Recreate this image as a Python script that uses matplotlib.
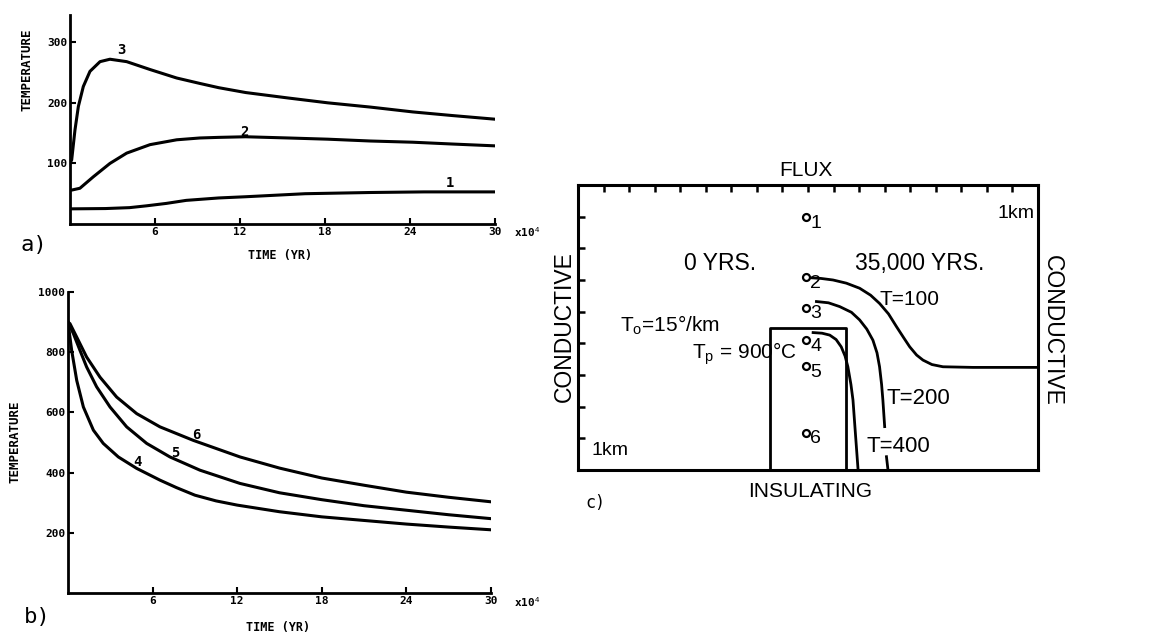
import matplotlib
matplotlib.use("Agg")
import matplotlib.pyplot as plt

plt.rcParams['mathtext.fontset'] = 'custom'
plt.rcParams['mathtext.rm'] = 'Liberation Sans'
plt.rcParams['mathtext.it'] = 'Liberation Sans'

# panel a: temperature vs time (x10^4 yr) at points 1-3
t3 = [0, 0.12, 0.35, 0.59, 0.94, 1.41, 2.12, 2.82, 4.0, 5.65, 7.53, 9.17, 10.5, 12.4,
      15.4, 18.2, 21.2, 24.2, 27, 30]
T3 = [100, 106, 155, 194, 227, 252, 268, 272, 268, 255, 241, 232, 225, 217,
      208, 200, 193, 185, 179, 173]
t2 = [0, 0.12, 0.7, 1.65, 2.82, 4.0, 5.65, 7.53, 9.17, 10.5, 12.4, 15.4, 18.2, 21.2,
      24.2, 27, 30]
T2 = [56, 56, 59, 78, 100, 117, 131, 139, 142, 143, 144, 142, 140, 137,
      135, 132, 129]
t1 = [0, 2.5, 4.2, 5.4, 6.8, 8.2, 10.5, 12.4, 16.6, 21.2, 25, 30]
T1 = [25, 25.5, 27, 30, 34, 39, 43, 45, 50, 52, 53, 53]

# panel b: points 4-6 inside the pluton
t4 = [0, 0.26, 0.62, 1.09, 1.8, 2.5, 3.57, 4.87, 6.52, 7.7, 9, 10.5, 12, 15, 18, 21,
      24, 27, 30]
T4 = [900, 806, 706, 618, 541, 497, 452, 414, 375, 350, 325, 306, 292, 270, 253, 241,
      229, 219, 210]
t5 = [0, 0.38, 0.85, 1.32, 2.03, 2.98, 4.16, 5.58, 7.23, 9.36, 12.2, 15, 18, 21, 24,
      27, 30]
T5 = [900, 862, 806, 751, 685, 618, 552, 497, 452, 408, 364, 333, 310, 290, 275,
      260, 247]
t6 = [0, 0.14, 0.62, 1.32, 2.27, 3.45, 4.87, 6.52, 8.89, 12.2, 15, 18, 21, 24, 27, 30]
T6 = [900, 895, 850, 784, 717, 651, 596, 552, 507, 452, 415, 382, 358, 335, 318, 303]

xticks = [6, 12, 18, 24, 30]
yticks_a = [100, 200, 300]
yticks_b = [200, 400, 600, 800, 1000]

# panel c: model section (grid units, 18 wide x 9 deep)
pluton_x = [7.5, 7.5, 10.5, 10.5]
pluton_y = [0, 4.5, 4.5, 0]
pts_x = [8.93, 8.93, 8.93, 8.93, 8.93, 8.93]
pts_y = [7.98, 6.08, 5.13, 4.11, 3.28, 1.18]
pts_lab = ['1', '2', '3', '4', '5', '6']
iso100_x = [8.93, 9.5, 9.98, 10.5, 11.02, 11.45, 11.8, 12.15, 12.46, 12.75, 12.98,
            13.25, 13.5, 13.85, 14.28, 15.46, 18]
iso100_y = [6.08, 6.05, 6.0, 5.9, 5.74, 5.52, 5.26, 4.93, 4.53, 4.17, 3.89,
            3.63, 3.47, 3.33, 3.26, 3.24, 3.24]
iso200_x = [9.33, 9.8, 10.24, 10.7, 11.02, 11.3, 11.54, 11.7, 11.8, 11.88, 11.93, 12.0]
iso200_y = [5.32, 5.28, 5.16, 4.98, 4.74, 4.45, 4.1, 3.7, 3.26, 2.7, 2.21, 1.37]
iso200b_x = [12.07, 12.13]
iso200b_y = [0.42, 0.0]
iso400_x = [9.2, 9.55, 9.85, 10.1, 10.3, 10.45, 10.56, 10.68, 10.76, 10.86, 10.96]
iso400_y = [4.34, 4.32, 4.26, 4.12, 3.89, 3.6, 3.26, 2.7, 2.21, 1.1, 0.0]

W, H = 1176, 632


def box(l, t, r, b):
    return [l / W, 1 - b / H, (r - l) / W, (b - t) / H]


fig = plt.figure(figsize=(11.76, 6.32), dpi=100)
mono = dict(family='DejaVu Sans Mono', weight='bold')


def style_axis(ax, yt, ylim):
    ax.set_xlim(0, 30)
    ax.set_ylim(*ylim)
    for s in ['top', 'right']:
        ax.spines[s].set_visible(False)
    for s in ['left', 'bottom']:
        ax.spines[s].set_linewidth(2)
    ax.set_xticks(xticks)
    ax.set_yticks(yt)
    ax.tick_params(direction='in', length=4, width=1.5, pad=2)
    for lab in ax.get_xticklabels() + ax.get_yticklabels():
        lab.set_fontfamily('DejaVu Sans Mono')
        lab.set_fontweight('bold')
        lab.set_fontsize(8)


# a)
axa = fig.add_axes(box(70, 15, 495, 224))
for t, T in [(t1, T1), (t2, T2), (t3, T3)]:
    axa.plot(t, T, color='black', lw=2.2, solid_joinstyle='round')
style_axis(axa, yticks_a, (0, 345))
axa.text(3.65, 287, '3', fontsize=10, ha='center', va='center', **mono)
axa.text(12.3, 152, '2', fontsize=10, ha='center', va='center', **mono)
axa.text(26.8, 68, '1', fontsize=10, ha='center', va='center', **mono)
fig.text(280 / W, 1 - 256 / H, 'TIME (YR)', fontsize=8.5, ha='center', va='center', **mono)
fig.text(27 / W, 1 - 70 / H, 'TEMPERATURE', fontsize=9, rotation=90, ha='center', va='center', **mono)
fig.text(527 / W, 1 - 232 / H, 'x10$^4$', fontsize=8, ha='center', va='center', **mono)
fig.text(34 / W, 1 - 245 / H, 'a)', fontsize=16, ha='center', va='center', family='DejaVu Sans Mono')

# b)
axb = fig.add_axes(box(68, 292, 491, 593))
for t, T in [(t4, T4), (t5, T5), (t6, T6)]:
    axb.plot(t, T, color='black', lw=2.2, solid_joinstyle='round')
style_axis(axb, yticks_b, (0, 1000))
axb.text(4.91, 434, '4', fontsize=10, ha='center', va='center', **mono)
axb.text(7.59, 465, '5', fontsize=10, ha='center', va='center', **mono)
axb.text(9.13, 524, '6', fontsize=10, ha='center', va='center', **mono)
fig.text(278 / W, 1 - 627 / H, 'TIME (YR)', fontsize=8.5, ha='center', va='center', **mono)
fig.text(15 / W, 1 - 442 / H, 'TEMPERATURE', fontsize=9, rotation=90, ha='center', va='center', **mono)
fig.text(527 / W, 1 - 602 / H, 'x10$^4$', fontsize=8, ha='center', va='center', **mono)
fig.text(37 / W, 1 - 617 / H, 'b)', fontsize=16, ha='center', va='center', family='DejaVu Sans Mono')

# c)
axc = fig.add_axes(box(578, 185, 1038, 470))
axc.set_xlim(0, 18)
axc.set_ylim(0, 9)
for s in axc.spines.values():
    s.set_linewidth(2.2)
axc.set_xticks(range(1, 18))
axc.set_yticks(range(1, 9))
axc.tick_params(axis='x', top=True, bottom=False, labelbottom=False, direction='in', length=5, width=1.8)
axc.tick_params(axis='y', left=True, right=False, labelleft=False, direction='in', length=5, width=1.8)
for xs, ys in [(pluton_x, pluton_y), (iso100_x, iso100_y), (iso200_x, iso200_y),
               (iso200b_x, iso200b_y), (iso400_x, iso400_y)]:
    axc.plot(xs, ys, color='black', lw=2, solid_joinstyle='round')
axc.plot(pts_x, pts_y, 'o', ms=5, mfc='white', mec='black', mew=1.6, ls='none')
for x, y, s in zip(pts_x, pts_y, pts_lab):
    axc.text(x + 0.38, y - 0.2, s, fontsize=14, ha='center', va='center', family='Liberation Sans')

sans = dict(family='Liberation Sans', ha='center', va='center', clip_on=False)
axc.text(8.93, 9.47, 'FLUX', fontsize=15, **sans)
axc.text(9.07, -0.68, 'INSULATING', fontsize=15, **sans)
axc.text(-0.52, 4.53, 'CONDUCTIVE', fontsize=16.5, rotation=90, **sans)
axc.text(18.55, 4.42, 'CONDUCTIVE', fontsize=16.5, rotation=-90, **sans)
axc.text(17.15, 8.1, '1km', fontsize=14, **sans)
axc.text(1.24, 0.63, '1km', fontsize=14, **sans)
axc.text(5.54, 6.53, '0 YRS.', fontsize=16.5, **sans)
axc.text(13.37, 6.53, '35,000 YRS.', fontsize=16.5, **sans)
axc.text(12.98, 5.37, 'T=100', fontsize=15, **sans)
axc.text(13.3, 2.26, 'T=200', fontsize=16, **sans)
axc.text(12.52, 0.74, 'T=400', fontsize=16, **sans)
axc.text(3.59, 4.58, 'T$_\\mathrm{o}$=15°/km', fontsize=15, **sans)
axc.text(6.52, 3.68, 'T$_\\mathrm{p}$ = 900°C', fontsize=15, **sans)
fig.text(595 / W, 1 - 503 / H, 'c)', fontsize=12, ha='center', va='center', family='DejaVu Sans Mono')

fig.savefig('out.png', dpi=100)
